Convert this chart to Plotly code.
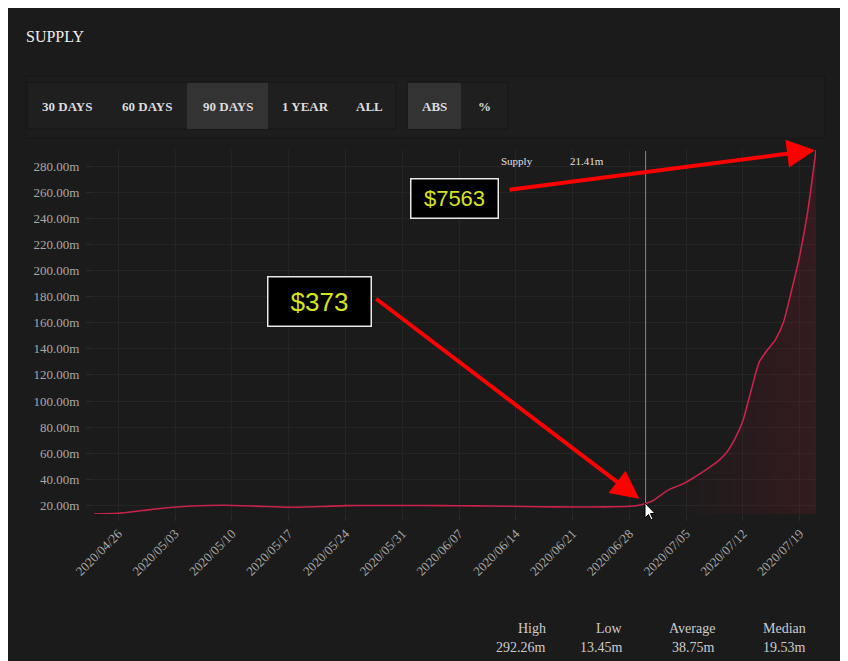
import plotly.graph_objects as go

# ---------------- data ----------------
dates = ["2020-04-23", "2020-04-26", "2020-04-29", "2020-05-02", "2020-05-05", "2020-05-09",
         "2020-05-13", "2020-05-17", "2020-05-21", "2020-05-24", "2020-05-28", "2020-06-01",
         "2020-06-05", "2020-06-09", "2020-06-13", "2020-06-17", "2020-06-21", "2020-06-25",
         "2020-06-28", "2020-06-29", "2020-06-30", "2020-07-01", "2020-07-02", "2020-07-03",
         "2020-07-04", "2020-07-05", "2020-07-06", "2020-07-07", "2020-07-08", "2020-07-09",
         "2020-07-10", "2020-07-11", "2020-07-12", "2020-07-13", "2020-07-14", "2020-07-15",
         "2020-07-16", "2020-07-17", "2020-07-18", "2020-07-19", "2020-07-20", "2020-07-21"]
supply = [13.45, 14.0, 16.1, 18.2, 19.6, 20.2,
          19.5, 18.6, 19.2, 19.9, 20.0, 20.0,
          19.9, 19.7, 19.4, 19.0, 18.8, 18.9,
          19.4, 20.0, 21.41, 24.0, 28.5, 32.5,
          35.0, 37.8, 41.6, 45.5, 49.8, 54.4,
          60.8, 71.0, 85.0, 108.0, 129.8, 139.0,
          147.0, 160.5, 185.0, 211.6, 246.0, 292.26]

x_ticks = ["2020-04-26", "2020-05-03", "2020-05-10", "2020-05-17", "2020-05-24", "2020-05-31",
           "2020-06-07", "2020-06-14", "2020-06-21", "2020-06-28", "2020-07-05", "2020-07-12",
           "2020-07-19"]
y_ticks = [20, 40, 60, 80, 100, 120, 140, 160, 180, 200, 220, 240, 260, 280]
y_tick_text = ["%.2fm" % v for v in y_ticks]

buttons = ["30 DAYS", "60 DAYS", "90 DAYS", "1 YEAR", "ALL", "ABS", "%"]
active_buttons = ["90 DAYS", "ABS"]

stat_labels = ["High", "Low", "Average", "Median"]
stat_values = ["292.26m", "13.45m", "38.75m", "19.53m"]

hover_date = "2020-06-30"
hover_value = 21.41
price_low = "$373"
price_high = "$7563"

# ---------------- layout helpers (reference window pixels) ----------------
OFF = 8                      # page body margin
W, H = 848, 661
L, R, T, B = 94, 816, 150, 514
PW, PH = R - L, B - T


def px(x):
    return (x - L) / PW


def py(y):
    return (B - y) / PH


SERIF = "Liberation Serif, Times New Roman, serif"

fig = go.Figure()
fig.add_trace(go.Scatter(
    x=dates, y=supply, mode="lines",
    line=dict(color="#c8234a", width=1.6, shape="spline", smoothing=0.6),
    fill="tozeroy",
    fillgradient=dict(type="horizontal",
                      colorscale=[[0, "rgba(150,25,45,0)"], [0.8, "rgba(150,25,45,0)"],
                                  [1, "rgba(150,25,45,0.2)"]]),
    hoverinfo="skip", showlegend=False,
))

shapes = []
annotations = []

# toolbar
shapes.append(dict(type="rect", xref="paper", yref="paper", x0=px(26), x1=px(825), y0=py(76), y1=py(138),
                   fillcolor="#1d1d1d", line=dict(color="#161616", width=1), layer="below"))
shapes.append(dict(type="rect", xref="paper", yref="paper", x0=px(27), x1=px(396), y0=py(82), y1=py(129),
                   fillcolor="#1f1f1f", line=dict(color="#171717", width=1), layer="below"))
shapes.append(dict(type="rect", xref="paper", yref="paper", x0=px(408), x1=px(508), y0=py(82), y1=py(129),
                   fillcolor="#1f1f1f", line=dict(color="#171717", width=1), layer="below"))

btn_pos = {"30 DAYS": (27, 107), "60 DAYS": (107, 187), "90 DAYS": (187, 268), "1 YEAR": (268, 343),
           "ALL": (343, 396), "ABS": (408, 461), "%": (461, 508)}
for b in buttons:
    x0, x1 = btn_pos[b]
    if b in active_buttons:
        shapes.append(dict(type="rect", xref="paper", yref="paper", x0=px(x0), x1=px(x1),
                           y0=py(83), y1=py(129), fillcolor="#333333", line=dict(width=0), layer="below"))
    annotations.append(dict(text="<b>%s</b>" % b, xref="paper", yref="paper", x=px((x0 + x1) / 2),
                            y=py(106), showarrow=False, xanchor="center", yanchor="middle",
                            font=dict(family=SERIF, size=13, color="#dcdcdc")))

# title
annotations.append(dict(text="SUPPLY", xref="paper", yref="paper", x=px(24), y=py(36), showarrow=False,
                        xanchor="left", yanchor="middle",
                        font=dict(family=SERIF, size=16, color="#eeeeee")))

# crosshair
shapes.append(dict(type="line", xref="x", yref="paper", x0=hover_date, x1=hover_date, y0=0, y1=py(151),
                   line=dict(color="#8a8a8a", width=1), layer="above"))
annotations.append(dict(text="Supply", xref="paper", yref="paper", x=px(499), y=py(161), showarrow=False,
                        xanchor="left", yanchor="middle", font=dict(family=SERIF, size=11, color="#e0e0e0")))
annotations.append(dict(text="%.2fm" % hover_value, xref="paper", yref="paper", x=px(568), y=py(161),
                        showarrow=False, xanchor="left", yanchor="middle",
                        font=dict(family=SERIF, size=11, color="#e0e0e0")))

# mouse cursor
cx, cy = 645, 503
cur = [(0, 0), (0, 15), (3.5, 11.5), (6, 17), (8, 16), (5.5, 10.5), (10, 10.5)]
path = "M " + " L ".join("%f,%f" % (px(cx + a), py(cy + b)) for a, b in cur) + " Z"
shapes.append(dict(type="path", xref="paper", yref="paper", path=path, fillcolor="white",
                   line=dict(color="black", width=1), layer="above"))

# arrows
annotations.append(dict(x=dates[-1], y=supply[-1], xref="x", yref="y", ax=508 - R, ay=190 - T,
                        axref="pixel", ayref="pixel", text="", showarrow=True, arrowhead=2,
                        arrowsize=1.4, arrowwidth=4, arrowcolor="#ff0000", standoff=1))
annotations.append(dict(x=hover_date, y=hover_value, xref="x", yref="y", ax=375 - 646, ay=297 - 503,
                        axref="pixel", ayref="pixel", text="", showarrow=True, arrowhead=2,
                        arrowsize=1.4, arrowwidth=4, arrowcolor="#ff0000", standoff=8))

# price boxes
annotations.append(dict(text=price_high, xref="paper", yref="paper", x=px(454.5), y=py(198),
                        showarrow=False, xanchor="center", yanchor="middle", width=84, height=36,
                        bgcolor="#000000", bordercolor="#e8e8e8", borderwidth=1.5,
                        font=dict(family="Liberation Sans, Arial, sans-serif", size=22, color="#d4e41c")))
annotations.append(dict(text=price_low, xref="paper", yref="paper", x=px(319.5), y=py(301.5),
                        showarrow=False, xanchor="center", yanchor="middle", width=100, height=46,
                        bgcolor="#000000", bordercolor="#e8e8e8", borderwidth=1.5,
                        font=dict(family="Liberation Sans, Arial, sans-serif", size=26, color="#d4e41c")))

# stats
stat_right = [548, 625, 717, 808]
for lab, val, xr in zip(stat_labels, stat_values, stat_right):
    annotations.append(dict(text=lab, xref="paper", yref="paper", x=px(xr), y=py(628), showarrow=False,
                            xanchor="right", yanchor="middle",
                            font=dict(family=SERIF, size=14, color="#cccccc")))
    annotations.append(dict(text=val, xref="paper", yref="paper", x=px(xr), y=py(647), showarrow=False,
                            xanchor="right", yanchor="middle",
                            font=dict(family=SERIF, size=14, color="#cccccc")))

fig.update_layout(
    width=W - OFF, height=H - OFF,
    margin=dict(l=L - OFF, r=W - R, t=T - OFF, b=H - B, pad=0),
    paper_bgcolor="#1b1b1b", plot_bgcolor="rgba(0,0,0,0)",
    shapes=shapes, annotations=annotations,
    showlegend=False,
    xaxis=dict(type="date", range=["2020-04-23", "2020-07-21"], tickvals=x_ticks,
               tickformat="%Y/%m/%d", tickangle=-45,
               tickfont=dict(family=SERIF, size=13, color="#a8a8a8"),
               showgrid=True, gridcolor="#252525", gridwidth=1,
               ticks="outside", ticklen=6, tickcolor="#2a2a2a",
               showline=False, zeroline=False, fixedrange=True),
    yaxis=dict(range=[13.45, 292.26], tickvals=y_ticks, ticktext=y_tick_text,
               tickfont=dict(family=SERIF, size=13, color="#a8a8a8"),
               showgrid=True, gridcolor="#252525", gridwidth=1,
               ticks="outside", ticklen=7, tickcolor="#2a2a2a", ticklabelstandoff=4,
               showline=False, zeroline=False, fixedrange=True),
)

fig.write_html("out.html")
